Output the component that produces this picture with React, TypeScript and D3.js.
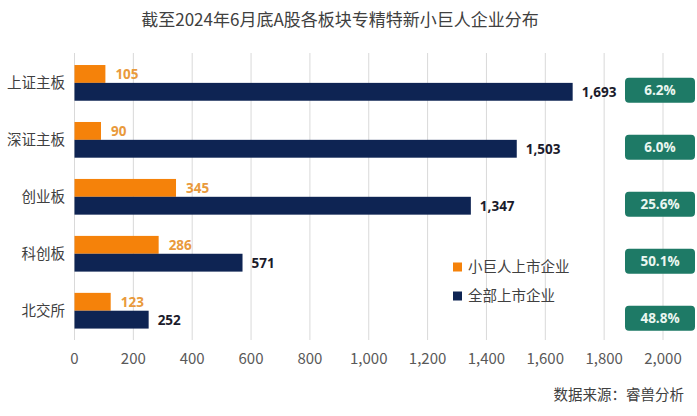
import React from 'react';
import * as d3 from 'd3';

const categories = ['上证主板', '深证主板', '创业板', '科创板', '北交所'];
const smallGiant = [105, 90, 345, 286, 123];
const allListed = [1693, 1503, 1347, 571, 252];
const shares = ['6.2%', '6.0%', '25.6%', '50.1%', '48.8%'];
const xTicks = [0, 200, 400, 600, 800, 1000, 1200, 1400, 1600, 1800, 2000];
const seriesNames = ['小巨人上市企业', '全部上市企业'];

const W = 697, H = 416;
const ORANGE = '#F5820A';
const NAVY = '#0E2453';
const GREEN = '#1E7A66';
const CJK = '"Noto Sans CJK SC", "Noto Sans", sans-serif';
const NUM = '"Open Sans", "Noto Sans", sans-serif';

export default function App() {
  const x = d3.scaleLinear().domain([0, 2000]).range([74.5, 663]);
  const y = d3.scaleBand<string>()
    .domain(categories)
    .range([54.4, 339.2])
    .paddingInner(0.373)
    .paddingOuter(0.1865);
  const sub = d3.scaleBand<number>().domain([0, 1]).range([0, y.bandwidth()]);
  const fmt = d3.format(',');

  return (
    <svg width={W} height={H} style={{ position: 'absolute', left: 0, top: 0, background: '#fff' }}>
      <rect width={W} height={H} fill="#fff" />
      <text x={340} y={26} textAnchor="middle" fontFamily={CJK} fontSize={17} fill="#404040">
        截至2024年6月底A股各板块专精特新小巨人企业分布
      </text>

      {xTicks.map(t => (
        <g key={t}>
          <line x1={x(t)} x2={x(t)} y1={53} y2={340} stroke="#d9d9d9" strokeWidth={1} />
          <text x={x(t)} y={364} textAnchor="middle" fontFamily={CJK} fontSize={15} fill="#595959">
            {fmt(t)}
          </text>
        </g>
      ))}

      {categories.map((c, i) => {
        const y0 = y(c) as number;
        const yo = y0 + (sub(0) as number);
        const yn = y0 + (sub(1) as number);
        const bh = sub.bandwidth();
        return (
          <g key={c}>
            <text x={65} y={y0 + y.bandwidth() / 2} dy="0.35em" textAnchor="end" fontFamily={CJK} fontSize={14.5} fill="#404040">
              {c}
            </text>
            <rect x={x(0)} y={yo} width={x(smallGiant[i]) - x(0)} height={bh} fill={ORANGE} />
            <rect x={x(0)} y={yn} width={x(allListed[i]) - x(0)} height={bh} fill={NAVY} />
            <text x={x(smallGiant[i]) + 10} y={yo + bh / 2} dy="0.36em" fontFamily={NUM} fontWeight={700} fontSize={13.5} fill="#E99A3C">
              {fmt(smallGiant[i])}
            </text>
            <text x={x(allListed[i]) + 9} y={yn + bh / 2} dy="0.36em" fontFamily={NUM} fontWeight={700} fontSize={13.5} fill="#1b1b2b">
              {fmt(allListed[i])}
            </text>
            <rect x={625} y={yn + bh / 2 - 14} width={70} height={25} rx={4} fill={GREEN} />
            <text x={660} y={yn + bh / 2 - 1.5} dy="0.36em" textAnchor="middle" fontFamily={NUM} fontWeight={700} fontSize={13.5} fill="#eaf6f0">
              {shares[i]}
            </text>
          </g>
        );
      })}

      {seriesNames.map((s, i) => (
        <g key={s} transform={`translate(453,${267 + i * 29})`}>
          <rect x={0} y={-4.5} width={9} height={9} fill={i === 0 ? ORANGE : NAVY} />
          <text x={15} y={0} dy="0.35em" fontFamily={CJK} fontSize={14.5} fill="#404040">{s}</text>
        </g>
      ))}

      <text x={684} y={400} textAnchor="end" fontFamily={CJK} fontSize={14.5} fill="#404040">
        数据来源：睿兽分析
      </text>
    </svg>
  );
}
